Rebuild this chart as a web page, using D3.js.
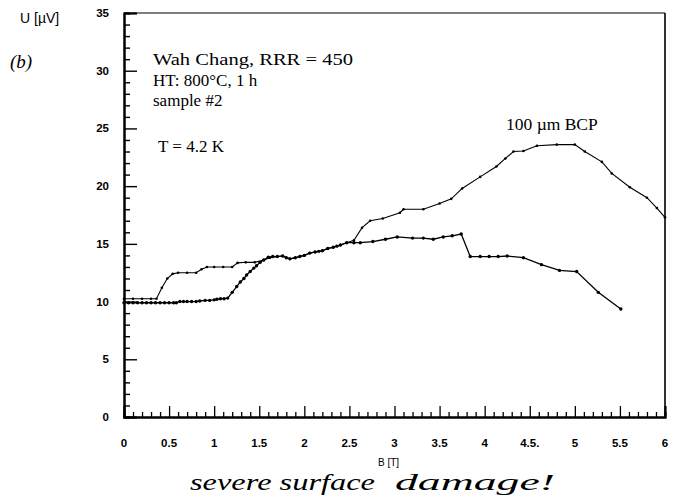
<!DOCTYPE html>
<html><head><meta charset="utf-8">
<script src="https://cdn.jsdelivr.net/npm/d3@7"></script>
<style>body{margin:0;background:#fff}svg{display:block}</style>
</head><body>
<svg id="c" width="680" height="499"></svg>
<script>
// ---- data ----
const xTickValues = [0,0.5,1,1.5,2,2.5,3,3.5,4,4.5,5,5.5,6];
const xTickLabels = ["0","0.5","1","1.5","2","2.5","3","3.5","4","4.5.","5","5.5","6"];
const yTickValues = [0,5,10,15,20,25,30,35];
const yTickLabels = ["0","5","10","15","20","25","30","35"];

// "100 µm BCP" curve (upper, thin at start)
const upperX = [0,0.1,0.2,0.3,0.36,0.42,0.48,0.54,0.6,0.7,0.8,0.86,0.92,1.0,1.1,1.2,1.26,1.35,1.45,1.55,1.62,1.7,1.76,1.84,1.9,1.95,2.0,2.06,2.12,2.2,2.26,2.32,2.4,2.47,2.55,2.64,2.73,2.87,3.06,3.1,3.32,3.5,3.63,3.75,3.95,4.13,4.23,4.32,4.43,4.58,4.8,5.0,5.11,5.3,5.41,5.61,5.8,5.91,6.0];
const upperY = [10.25,10.25,10.25,10.25,10.25,11.2,12.0,12.4,12.5,12.5,12.5,12.8,13.0,13.0,13.0,13.0,13.35,13.4,13.4,13.6,13.8,13.9,13.95,13.7,13.8,13.9,14.0,14.2,14.3,14.4,14.6,14.7,14.9,15.1,15.3,16.4,17.0,17.2,17.7,18.0,18.0,18.5,18.9,19.8,20.8,21.7,22.4,23.0,23.05,23.5,23.6,23.6,23.0,22.1,21.1,19.9,19.0,18.1,17.3];

// lower curve (thick start, ends at 5.5)
const lowerX = [0,0.05,0.1,0.15,0.2,0.25,0.3,0.35,0.4,0.45,0.5,0.55,0.58,0.62,0.66,0.7,0.75,0.8,0.84,0.9,0.95,1.0,1.03,1.07,1.11,1.15,1.2,1.25,1.29,1.33,1.36,1.4,1.44,1.47,1.51,1.55,1.6,1.65,1.7,1.76,1.8,1.84,1.9,1.95,2.0,2.06,2.12,2.16,2.2,2.26,2.32,2.36,2.4,2.47,2.55,2.62,2.76,2.9,3.03,3.2,3.32,3.43,3.54,3.64,3.74,3.84,3.95,4.05,4.15,4.25,4.43,4.63,4.83,5.02,5.26,5.51];
const lowerY = [9.9,9.9,9.9,9.9,9.9,9.9,9.9,9.9,9.9,9.9,9.9,9.9,9.9,10.0,10.0,10.0,10.0,10.0,10.05,10.1,10.1,10.15,10.2,10.25,10.25,10.3,10.8,11.3,11.7,12.0,12.3,12.6,12.9,13.1,13.4,13.6,13.85,13.9,13.9,13.95,13.8,13.7,13.8,13.9,14.0,14.2,14.3,14.35,14.4,14.6,14.7,14.8,14.9,15.1,15.1,15.1,15.2,15.4,15.6,15.5,15.5,15.4,15.6,15.7,15.85,13.9,13.9,13.9,13.9,13.95,13.8,13.2,12.7,12.6,10.8,9.35];

const svg = d3.select("#c");
const x = d3.scaleLinear().domain([0,6]).range([124,665]);
const y = d3.scaleLinear().domain([0,35]).range([417,13]);

// frame
svg.append("line").attr("x1",x(0)).attr("x2",x(6)).attr("y1",y(35)).attr("y2",y(35)).attr("stroke","#000").attr("stroke-width",1);
svg.append("line").attr("x1",x(6)).attr("x2",x(6)).attr("y1",y(35)).attr("y2",y(0)).attr("stroke","#000").attr("stroke-width",1.6);

// y axis (ticks inward)
const yMinor = d3.range(0,36,1).filter(v=>v%5!==0);
const yAx = svg.append("g").attr("transform",`translate(${x(0)},0)`);
yAx.call(d3.axisRight(y).tickValues(yMinor).tickSize(6).tickFormat(""));
yAx.append("g").call(d3.axisRight(y).tickValues(yTickValues).tickSize(13).tickFormat(""));
yAx.selectAll(".domain").attr("stroke-width",2);
yAx.selectAll(".tick line").attr("stroke-width",1.4);
svg.append("g").selectAll("text").data(yTickValues).join("text")
  .attr("x",109).attr("y",d=>y(d)+4).attr("text-anchor","end")
  .attr("font-family","Liberation Sans, Arial, sans-serif").attr("font-weight","bold").attr("font-size",11.5)
  .text((d,i)=>yTickLabels[i]);

// x axis (ticks inward)
const xMinor = d3.range(0,61,1).filter(v=>v%5!==0).map(v=>v/10);
const xAx = svg.append("g").attr("transform",`translate(0,${y(0)})`);
xAx.call(d3.axisTop(x).tickValues(xMinor).tickSize(5).tickFormat(""));
xAx.append("g").call(d3.axisTop(x).tickValues(xTickValues).tickSize(11).tickFormat(""));
xAx.selectAll(".domain").attr("stroke-width",2);
xAx.selectAll(".tick line").attr("stroke-width",1.3);
svg.append("g").selectAll("text").data(xTickValues).join("text")
  .attr("x",d=>x(d)).attr("y",447).attr("text-anchor","middle")
  .attr("font-family","Liberation Sans, Arial, sans-serif").attr("font-weight","bold").attr("font-size",11.5)
  .text((d,i)=>xTickLabels[i]);

// series
const line = d3.line().x(d=>x(d[0])).y(d=>y(d[1]));
function drawSeries(xs, ys, w, r){
  const pts = xs.map((v,i)=>[v,ys[i]]);
  svg.append("path").datum(pts).attr("d",line).attr("fill","none").attr("stroke","#000").attr("stroke-width",w);
  svg.append("g").selectAll("circle").data(pts).join("circle")
    .attr("cx",d=>x(d[0])).attr("cy",d=>y(d[1])).attr("r",r).attr("fill","#000");
}
drawSeries(upperX, upperY, 1.1, 1.3);
drawSeries(lowerX, lowerY, 1.3, 1.7);

// texts
const serif = "Liberation Serif, Times New Roman, serif";
svg.append("text").attr("x",20).attr("y",23).attr("font-family","Liberation Sans, Arial, sans-serif").attr("font-size",14).text("U [µV]");
svg.append("text").attr("x",10).attr("y",68).attr("font-family",serif).attr("font-style","italic").attr("font-size",19).text("(b)");
svg.append("text").attr("x",153).attr("y",65).attr("font-family",serif).attr("font-size",17)
  .attr("textLength",200).attr("lengthAdjust","spacingAndGlyphs").text("Wah Chang, RRR = 450");
svg.append("text").attr("x",153).attr("y",86).attr("font-family",serif).attr("font-size",17).text("HT: 800°C, 1 h");
svg.append("text").attr("x",153).attr("y",106).attr("font-family",serif).attr("font-size",17).text("sample #2");
svg.append("text").attr("x",158).attr("y",152).attr("font-family",serif).attr("font-size",17).text("T = 4.2 K");
svg.append("text").attr("x",506).attr("y",130).attr("font-family",serif).attr("font-size",17.5).text("100 µm BCP");
svg.append("text").attr("x",378).attr("y",466).attr("font-family","Liberation Sans, Arial, sans-serif").attr("font-size",10).text("B [T]");
svg.append("text").attr("x",190).attr("y",490).attr("font-family",serif).attr("font-style","italic").attr("font-size",24)
  .attr("textLength",185).attr("lengthAdjust","spacingAndGlyphs").text("severe surface");
svg.append("text").attr("x",395).attr("y",490).attr("font-family",serif).attr("font-style","italic").attr("font-size",24)
  .attr("textLength",160).attr("lengthAdjust","spacingAndGlyphs").text("damage!");
</script>
</body></html>
